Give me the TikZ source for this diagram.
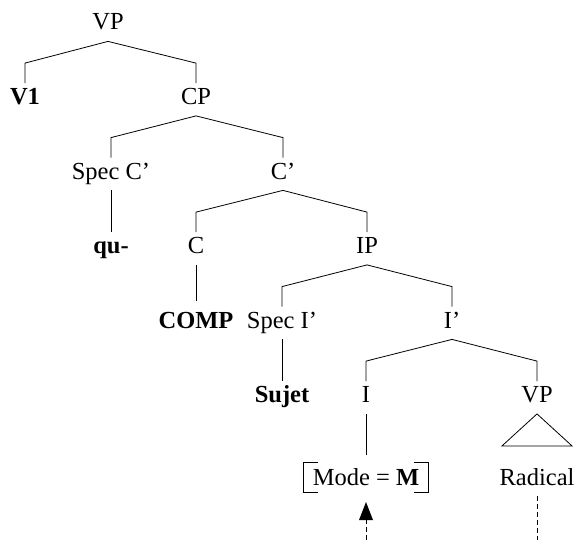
\documentclass[tikz,border=0pt]{standalone}
\usepackage{fontspec}
\setmainfont{Liberation Serif}
\tikzset{%
  cat/.style={inner sep=0pt, text height=21pt, text depth=11pt, anchor=base, font=\fontsize{24.5}{29}\selectfont},
  lex/.style={cat, font=\fontsize{24.5}{29}\selectfont\bfseries},
  featbox/.style={inner xsep=9pt, inner ysep=0pt, text height=22pt, text depth=7pt, anchor=base, font=\fontsize{24.5}{29}\selectfont},
  guide/.style={dash pattern=on 5pt off 3pt},
}
\begin{document}
\begin{tikzpicture}[x=1pt, y=-1pt, line width=0.8pt]%
\useasboundingbox (0,0) rectangle (575,540);%
% level 0 to 2
\node[cat] (vp) at (108, 30) {VP};%
\node[lex] (v1) at (25, 104.5) {V1};%
\node[cat] (cp) at (196, 104.5) {CP};%
\node[cat] (specc) at (111, 179) {Spec C'};%
\node[cat] (cbar) at (283, 179) {C'};%
\node[lex] (qu) at (111, 253.5) {qu-};%
% level 3 to 5
\node[cat] (c) at (196, 253.5) {C};%
\node[cat] (ip) at (367, 253.5) {IP};%
\node[lex] (comp) at (196, 328) {COMP};%
\node[cat] (speci) at (282, 328) {Spec I'};%
\node[cat] (ibar) at (452, 328) {I'};%
\node[lex] (sujet) at (282, 402.5) {Sujet};%
\node[cat] (infl) at (366, 402.5) {I};%
\node[cat] (vpb) at (537, 402.5) {VP};%
% bottom row
\node[featbox] (mode) at (366, 485) {Mode = \textbf{M}};%
\node[cat] (radical) at (537, 485) {Radical};%
\coordinate (modefoot) at (366, 540);%
\coordinate (headtip) at (366, 502);%
\coordinate (radfoot) at (537, 540);%
% branches
\draw (v1.north) -- ([yshift=20pt]v1.north) -- (vp.south) -- ([yshift=20pt]cp.north) -- (cp.north);%
\draw (specc.north) -- ([yshift=20pt]specc.north) -- (cp.south) -- ([yshift=20pt]cbar.north) -- (cbar.north);%
\draw (c.north) -- ([yshift=20pt]c.north) -- (cbar.south) -- ([yshift=20pt]ip.north) -- (ip.north);%
\draw (speci.north) -- ([yshift=20pt]speci.north) -- (ip.south) -- ([yshift=20pt]ibar.north) -- (ibar.north);%
\draw (infl.north) -- ([yshift=20pt]infl.north) -- (ibar.south) -- ([yshift=20pt]vpb.north) -- (vpb.north);%
\draw (specc.south) -- (qu.north);%
\draw (c.south) -- ([yshift=6pt]comp.north);%
\draw (speci.south) -- (sujet.north);%
\draw (infl.south) -- ([yshift=8pt]mode.north);%
% triangle under VP
\draw (vpb.south) -- ++(-35, 32) -- ++(70, 0) -- cycle;%
% brackets
\draw ([xshift=15pt]mode.north west) -- (mode.north west) -- (mode.south west) -- ([xshift=15pt]mode.south west);%
\draw ([xshift=-15pt]mode.north east) -- (mode.north east) -- (mode.south east) -- ([xshift=-15pt]mode.south east);%
% dashed lines
\draw[guide] (modefoot) -- ([yshift=-16pt]headtip);%
\fill (headtip) -- ++(-7, 18) -- ++(14, 0) -- cycle;%
\draw[guide] (radical.south) -- (radfoot);%
\end{tikzpicture}
\end{document}
